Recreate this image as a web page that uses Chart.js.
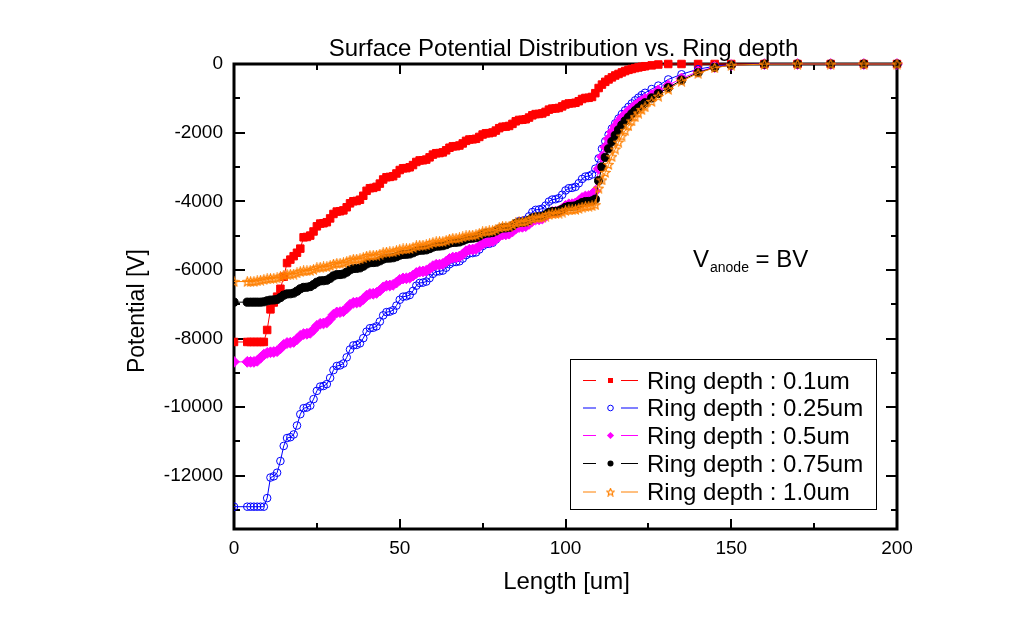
<!DOCTYPE html>
<html><head><meta charset="utf-8">
<script src="https://cdn.jsdelivr.net/npm/chart.js@4.4.1/dist/chart.umd.min.js"></script>
<style>html,body{margin:0;padding:0;background:#fff;}#wrap{width:1025px;height:626px;}</style>
</head><body><div id="wrap"><canvas id="c" width="1025" height="626"></canvas></div>
<script>
// ---------- data ----------
const X_VALUES = [0,4,5,6,7,8,9,
 10,11,12,13,14,15,16,17,18,19,20,21,22,23,24,25,26,27,28,29,30,
 31,32,33,34,35,36,37,38,39,40,41,42,43,44,45,46,47,48,49,50,
 51,52,53,54,55,56,57,58,59,60,61,62,63,64,65,66,67,68,69,70,
 71,72,73,74,75,76,77,78,79,80,81,82,83,84,85,86,87,88,89,90,
 91,92,93,94,95,96,97,98,99,100,101,102,103,104,105,106,107,108,109,110,
 111,112,113,114,115,116,117,118,119,120,121,122,123,124,
 126,128,131,135,140,145,150,160,170,180,190,200];

const RING_01 = [-8100,-8100,-8100,-8100,-8100,-8100,-8100,
 -7750,
 -7150,-6950,-6780,-6550,-6200,
 -5800,-5700,-5600,-5500,-5380,
 -5050,-5040,-5000,-4880,-4730,
 -4650,-4640,-4610,-4500,-4370,
 -4300,-4290,-4265,-4175,-4060,
 -4000,-3990,-3955,-3840,-3695,
 -3620,-3610,-3580,-3485,-3365,
 -3300,-3290,-3270,-3190,-3090,
 -3040,-3035,-3010,-2945,-2855,
 -2810,-2805,-2785,-2720,-2640,
 -2600,-2595,-2575,-2515,-2440,
 -2400,-2395,-2375,-2315,-2240,
 -2200,-2195,-2180,-2125,-2055,
 -2020,-2015,-1995,-1940,-1870,
 -1830,-1825,-1805,-1745,-1670,
 -1630,-1625,-1610,-1560,-1495,
 -1460,-1455,-1440,-1395,-1330,
 -1300,-1295,-1280,-1235,-1180,
 -1150,-1145,-1130,-1085,-1020,
 -990,-985,-960,-850,-700,
 -600,-520,-450,-390,-335,-290,-245,-205,-170,-145,-120,-100,-80,-65,
 -40,-15,0,0,0,0,0,0,0,0,0,0];

const RING_025 = [-12900,-12900,-12900,-12900,-12900,-12900,-12900,
 -12650,
 -12050,-12015,-11910,-11570,-11130,
 -10900,-10875,-10795,-10535,-10205,
 -10030,-10010,-9955,-9765,-9525,
 -9400,-9382,-9328,-9148,-8920,
 -8800,-8782,-8728,-8548,-8320,
 -8200,-8185,-8140,-7990,-7800,
 -7700,-7685,-7645,-7505,-7325,
 -7230,-7215,-7175,-7040,-6870,
 -6780,-6768,-6732,-6612,-6460,
 -6380,-6370,-6340,-6240,-6115,
 -6050,-6040,-6020,-5935,-5835,
 -5780,-5770,-5750,-5670,-5570,
 -5520,-5510,-5490,-5405,-5305,
 -5250,-5240,-5210,-5115,-4995,
 -4930,-4920,-4890,-4785,-4650,
 -4580,-4570,-4540,-4440,-4315,
 -4250,-4240,-4215,-4125,-4010,
 -3950,-3940,-3910,-3810,-3685,
 -3620,-3610,-3580,-3475,-3350,
 -3280,-3265,-3220,-3050,-2750,
 -2470,-2250,-2060,-1880,-1730,-1590,-1460,-1350,-1250,-1150,-1060,-980,-905,-840,
 -730,-630,-450,-300,-150,-65,-20,0,0,0,0,0];

const RING_05 = [-8680,-8680,-8680,-8680,
 -8650,-8560,-8470,
 -8420,
 -8400,-8392,-8368,-8287,-8184,
 -8130,-8120,-8100,-8020,-7920,
 -7870,-7861,-7834,-7744,-7630,
 -7570,-7560,-7530,-7430,-7305,
 -7240,-7230,-7205,-7120,-7015,
 -6960,-6950,-6930,-6850,-6750,
 -6700,-6695,-6670,-6600,-6510,
 -6460,-6455,-6435,-6370,-6290,
 -6250,-6245,-6225,-6165,-6090,
 -6050,-6045,-6025,-5965,-5890,
 -5850,-5845,-5825,-5760,-5680,
 -5640,-5635,-5610,-5545,-5455,
 -5410,-5405,-5385,-5320,-5235,
 -5190,-5185,-5165,-5100,-5015,
 -4970,-4965,-4945,-4880,-4795,
 -4750,-4745,-4725,-4660,-4575,
 -4530,-4525,-4505,-4440,-4355,
 -4310,-4305,-4285,-4220,-4135,
 -4090,-4085,-4060,-3995,-3905,
 -3860,-3850,-3800,-3700,-3050,
 -2700,-2420,-2180,-1980,-1820,-1680,-1560,-1460,-1370,-1290,-1210,-1140,-1080,-1020,
 -900,-770,-620,-420,-220,-90,-30,-5,0,0,0,0];

const RING_075 = [-6940,-6940,-6940,-6940,-6940,-6940,
 -6930,
 -6900,
 -6880,-6875,-6860,-6805,-6735,
 -6700,-6695,-6675,-6620,-6550,
 -6510,-6505,-6485,-6430,-6360,
 -6320,-6315,-6300,-6245,-6175,
 -6140,-6135,-6120,-6065,-5995,
 -5960,-5955,-5940,-5890,-5825,
 -5790,-5785,-5775,-5735,-5685,
 -5660,-5655,-5645,-5615,-5570,
 -5550,-5545,-5535,-5500,-5455,
 -5430,-5425,-5415,-5380,-5335,
 -5310,-5305,-5295,-5265,-5220,
 -5200,-5195,-5185,-5150,-5105,
 -5080,-5075,-5060,-5015,-4960,
 -4930,-4925,-4910,-4865,-4810,
 -4780,-4775,-4760,-4715,-4650,
 -4620,-4615,-4600,-4555,-4490,
 -4460,-4455,-4440,-4395,-4330,
 -4300,-4295,-4280,-4235,-4180,
 -4150,-4145,-4135,-4090,-4040,
 -4010,-4005,-3990,-3940,-3400,
 -3000,-2720,-2470,-2260,-2080,-1920,-1780,-1660,-1550,-1450,-1360,-1280,-1200,-1130,
 -990,-860,-690,-470,-250,-100,-30,-5,0,0,0,0];

const RING_10 = [-6340,-6340,-6340,
 -6335,-6320,-6300,-6280,
 -6260,
 -6250,-6245,-6235,-6200,-6155,
 -6130,-6125,-6120,-6090,-6050,
 -6030,-6025,-6015,-5985,-5940,
 -5920,-5915,-5905,-5875,-5830,
 -5810,-5805,-5795,-5760,-5715,
 -5690,-5685,-5675,-5645,-5600,
 -5580,-5575,-5570,-5540,-5500,
 -5480,-5475,-5470,-5440,-5410,
 -5390,-5385,-5375,-5345,-5300,
 -5280,-5275,-5270,-5240,-5200,
 -5180,-5175,-5170,-5140,-5100,
 -5080,-5075,-5070,-5040,-5010,
 -4990,-4985,-4975,-4940,-4895,
 -4870,-4865,-4855,-4815,-4765,
 -4740,-4735,-4725,-4680,-4630,
 -4600,-4595,-4585,-4550,-4505,
 -4480,-4475,-4465,-4430,-4385,
 -4360,-4355,-4345,-4315,-4270,
 -4250,-4245,-4240,-4210,-4170,
 -4150,-4145,-4130,-4100,-3620,
 -3380,-3160,-2930,-2700,-2480,-2280,-2100,-1940,-1800,-1660,-1540,-1430,-1330,-1250,
 -1090,-940,-740,-500,-270,-110,-35,-5,0,0,0,0];

const SERIES_LABELS = ['Ring depth : 0.1um','Ring depth : 0.25um','Ring depth : 0.5um','Ring depth : 0.75um','Ring depth : 1.0um'];
const X_TICKS = [0,50,100,150,200];
const X_MINOR = [25,75,125,175];
const Y_TICKS = [0,-2000,-4000,-6000,-8000,-10000,-12000];
const Y_MINOR = [-1000,-3000,-5000,-7000,-9000,-11000,-13000];

// ---------- styling ----------
const FONT = "'Liberation Sans', Arial, sans-serif";
const COLORS = ['#FF0000','#0000FF','#FF00FF','#000000','#FF8000'];

function makeStar(color, size){
  const c=document.createElement('canvas'); c.width=size; c.height=size;
  const g=c.getContext('2d'); g.strokeStyle=color; g.lineWidth=1.2;
  const cx=size/2, cy=size/2+0.4, R=size/2-0.7, r=R*0.45;
  g.beginPath();
  for(let i=0;i<10;i++){const a=-Math.PI/2+i*Math.PI/5; const rr=i%2?r:R; g.lineTo(cx+rr*Math.cos(a), cy+rr*Math.sin(a));}
  g.closePath(); g.stroke(); return c;
}
const STAR = makeStar(COLORS[4], 11);
const STAR_SMALL = makeStar(COLORS[4], 9);

function pts(ys){ return X_VALUES.map((x,i)=>({x:x, y:ys[i]})); }

const CLIP = {left:0, top:8, right:8, bottom:0};
const datasets = [
  {label:SERIES_LABELS[0], data:pts(RING_01), borderColor:COLORS[0], borderWidth:1, pointStyle:'rect', pointRadius:5.3,
   pointBackgroundColor:COLORS[0], pointBorderColor:COLORS[0], pointBorderWidth:1, order:4, clip:CLIP},
  {label:SERIES_LABELS[1], data:pts(RING_025), borderColor:COLORS[1], borderWidth:1, pointStyle:'circle', pointRadius:3.8,
   pointBackgroundColor:'rgba(0,0,0,0)', pointBorderColor:COLORS[1], pointBorderWidth:1, order:3, clip:CLIP},
  {label:SERIES_LABELS[2], data:pts(RING_05), borderColor:COLORS[2], borderWidth:1, pointStyle:'rectRot', pointRadius:5.4,
   pointBackgroundColor:COLORS[2], pointBorderColor:COLORS[2], pointBorderWidth:1, order:2, clip:CLIP},
  {label:SERIES_LABELS[3], data:pts(RING_075), borderColor:COLORS[3], borderWidth:1, pointStyle:'circle', pointRadius:4.1,
   pointBackgroundColor:COLORS[3], pointBorderColor:COLORS[3], pointBorderWidth:1, order:1, clip:CLIP},
  {label:SERIES_LABELS[4], data:pts(RING_10), borderColor:COLORS[4], borderWidth:1, pointStyle:STAR, pointRadius:4.5,
   pointBackgroundColor:'rgba(0,0,0,0)', pointBorderColor:COLORS[4], pointBorderWidth:1, order:0, clip:CLIP}
];

function legendMarker(ctx, i, x, y){
  ctx.save(); ctx.fillStyle=COLORS[i]; ctx.strokeStyle=COLORS[i]; ctx.lineWidth=1;
  if(i===0){ ctx.fillRect(x-2.5,y-2.5,5,5); }
  else if(i===1){ ctx.beginPath(); ctx.arc(x,y,2.8,0,2*Math.PI); ctx.stroke(); }
  else if(i===2){ ctx.beginPath(); ctx.moveTo(x-3.6,y); ctx.lineTo(x,y-3.6); ctx.lineTo(x+3.6,y); ctx.lineTo(x,y+3.6); ctx.closePath(); ctx.fill(); }
  else if(i===3){ ctx.beginPath(); ctx.arc(x,y,3,0,2*Math.PI); ctx.fill(); }
  else { ctx.drawImage(STAR_SMALL, x-STAR_SMALL.width/2, y-STAR_SMALL.height/2); }
  ctx.restore();
}

const decor = {
  id:'decor',
  beforeDatasetsDraw(chart){
    const ctx=chart.ctx, a=chart.chartArea, xs=chart.scales.x, ys=chart.scales.y;
    ctx.save();
    ctx.strokeStyle='#000'; ctx.lineWidth=3;
    ctx.strokeRect(a.left, a.top, a.right-a.left, a.bottom-a.top);
    ctx.lineWidth=2;
    ctx.beginPath();
    const tickX=(v,len)=>{const p=Math.round(xs.getPixelForValue(v));
      ctx.moveTo(p,a.bottom); ctx.lineTo(p,a.bottom-len); ctx.moveTo(p,a.top); ctx.lineTo(p,a.top+len);};
    const tickY=(v,len)=>{const p=Math.round(ys.getPixelForValue(v));
      ctx.moveTo(a.left,p); ctx.lineTo(a.left+len,p); ctx.moveTo(a.right,p); ctx.lineTo(a.right-len,p);};
    X_TICKS.forEach(v=>tickX(v,10)); X_MINOR.forEach(v=>tickX(v,6));
    Y_TICKS.forEach(v=>tickY(v,11)); Y_MINOR.forEach(v=>tickY(v,6));
    ctx.stroke();
    ctx.restore();
  },
  afterDraw(chart){
    const ctx=chart.ctx, a=chart.chartArea;
    ctx.save();
    ctx.fillStyle='#000';
    ctx.font='24px '+FONT; ctx.textAlign='center'; ctx.textBaseline='alphabetic';
    ctx.fillText('Surface Potential Distribution vs. Ring depth', (a.left+a.right)/2-2, 56);
    ctx.fillText('Length [um]', (a.left+a.right)/2+1, 589);
    ctx.save(); ctx.translate(138, 311); ctx.rotate(-Math.PI/2);
    ctx.font='23px '+FONT; ctx.textBaseline='middle'; ctx.fillText('Potential [V]',0,0); ctx.restore();
    ctx.textAlign='left'; ctx.textBaseline='alphabetic';
    ctx.font='24px '+FONT; let x=693; ctx.fillText('V',x,267); x+=ctx.measureText('V').width+1;
    ctx.font='14px '+FONT; ctx.fillText('anode',x,272); x+=ctx.measureText('anode').width;
    ctx.font='24px '+FONT; ctx.fillText(' = BV',x,267);
    ctx.lineWidth=1; ctx.strokeStyle='#000';
    ctx.strokeRect(570.5, 359.5, 306, 150);
    const rows=[380,407.5,435,463,491.5];
    rows.forEach((ry,i)=>{
      ctx.strokeStyle=COLORS[i]; ctx.lineWidth=1;
      ctx.beginPath(); ctx.moveTo(583,ry+0.5); ctx.lineTo(596,ry+0.5); ctx.moveTo(621,ry+0.5); ctx.lineTo(638,ry+0.5); ctx.stroke();
      legendMarker(ctx,i,610.5,ry+0.5);
      ctx.fillStyle='#000'; ctx.font='24px '+FONT; ctx.textAlign='left'; ctx.textBaseline='alphabetic';
      ctx.fillText(SERIES_LABELS[i], 647, ry+8.5);
    });
    ctx.restore();
  }
};

new Chart(document.getElementById('c'), {
  type:'line',
  data:{datasets:datasets},
  options:{
    responsive:false, animation:false, devicePixelRatio:1, events:[],
    layout:{padding:{left:100, right:128, top:64, bottom:37}},
    plugins:{legend:{display:false}, tooltip:{enabled:false}, title:{display:false}},
    elements:{line:{tension:0}},
    scales:{
      x:{type:'linear', min:0, max:200,
        grid:{display:false, drawTicks:false}, border:{display:false},
        afterBuildTicks:s=>{s.ticks=X_TICKS.map(v=>({value:v}));},
        afterFit:s=>{s.height=60;},
        ticks:{font:{family:FONT,size:19}, color:'#000', padding:8, maxRotation:0, autoSkip:false, callback:v=>String(v)}},
      y:{type:'linear', min:-13550, max:0,
        grid:{display:false, drawTicks:false}, border:{display:false},
        afterBuildTicks:s=>{s.ticks=Y_TICKS.map(v=>({value:v}));},
        afterFit:s=>{s.width=134;},
        ticks:{font:{family:FONT,size:19}, color:'#000', padding:11, autoSkip:false, callback:v=>String(v)}}
    }
  },
  plugins:[decor]
});
</script></body></html>
